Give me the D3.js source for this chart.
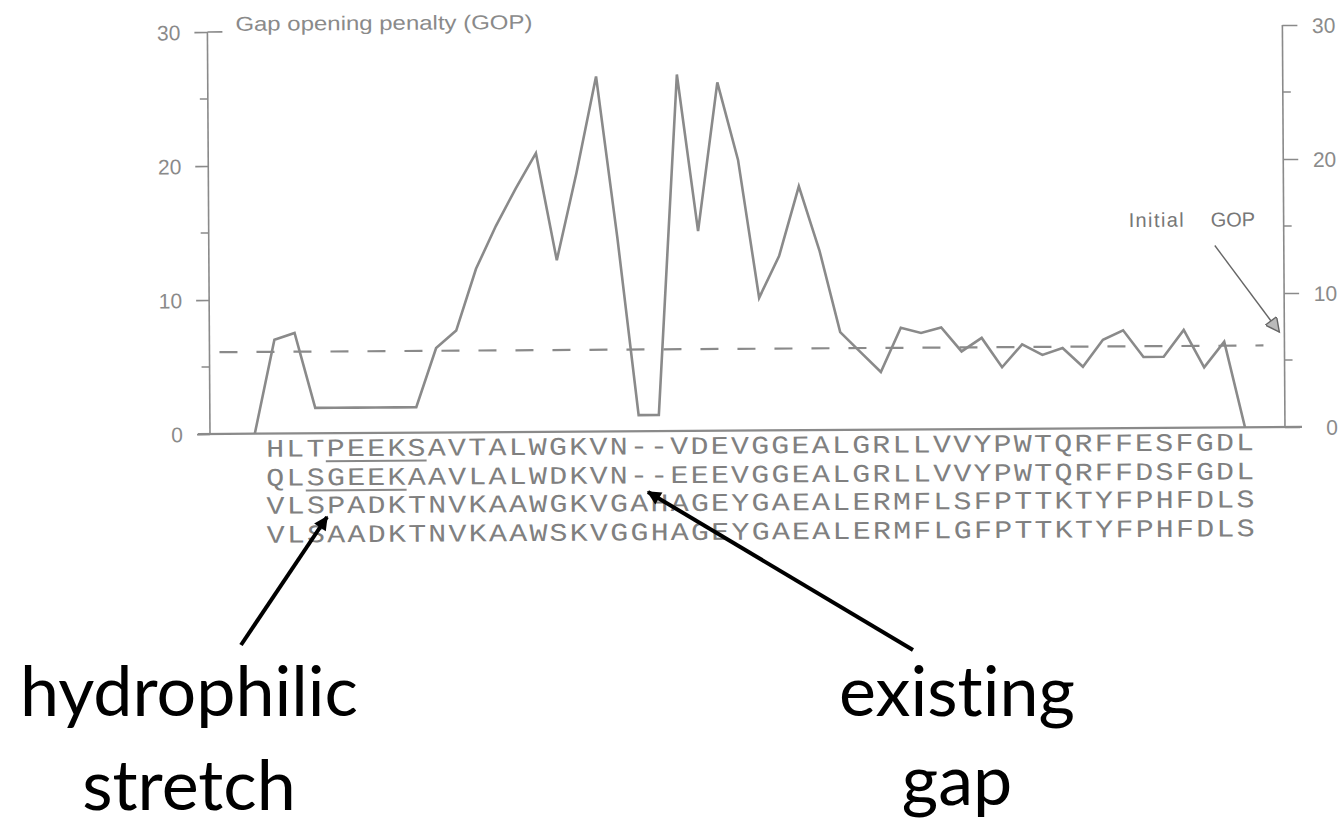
<!DOCTYPE html>
<html>
<head>
<meta charset="utf-8">
<script src="https://cdn.jsdelivr.net/npm/d3@7/dist/d3.min.js"></script>
<style>
  html, body { margin: 0; padding: 0; background: #fff; }
  svg { display: block; }
  text { font-variant-ligatures: none; }
</style>
</head>
<body>
<svg id="chart" width="1342" height="830"></svg>
<script>
// Gap opening penalty per alignment column (index -1 is the leading zero point)
const gopPositions = d3.range(-1, 49);
const gopValues = [0, 7.0, 7.5, 1.9, 1.9, 1.9, 1.9, 1.9, 1.9, 6.3, 7.6, 12.2, 15.4, 18.2, 20.8,
  12.8, 19.3, 26.5, 14.5, 1.2, 1.2, 26.6, 14.9, 26.0, 20.2, 9.9, 13.0, 18.2, 13.4, 7.3, 5.8,
  4.3, 7.6, 7.2, 7.6, 5.8, 6.8, 4.6, 6.3, 5.5, 6.0, 4.6, 6.6, 7.3, 5.3, 5.3, 7.3, 4.5, 6.4, 0];
const initialGop = 6.1;

// Aligned sequences
const sequences = [
  "HLTPEEKSAVTALWGKVN--VDEVGGEALGRLLVVYPWTQRFFESFGDL",
  "QLSGEEKAAVLALWDKVN--EEEVGGEALGRLLVVYPWTQRFFDSFGDL",
  "VLSPADKTNVKAAWGKVGAHAGEYGAEALERMFLSFPTTKTYFPHFDLS",
  "VLSAADKTNVKAAWSKVGGHAGEYGAEALERMFLGFPTTKTYFPHFDLS"
];
// Underlined stretches: [row, first column, last column]
const underlines = [[0, 3, 7], [1, 2, 6]];

const majorTicks = [0, 10, 20, 30];
const minorTicks = [5, 15, 25];

const svg = d3.select("#chart");
const grey = "#8a8a8a";
const sans = "Liberation Sans, Arial, sans-serif";

const x = d3.scaleLinear().domain([0, 48]).range([275, 1245]);
const y = d3.scaleLinear().domain([0, 30]).range([434, 32]);
const xLeft = 210, xRight = 1285;

// The plot is printed with a slight tilt
const plot = svg.append("g").attr("transform", `rotate(-0.37 ${xLeft} ${y(0)})`);

// Baseline
plot.append("line")
  .attr("x1", 198).attr("x2", 1302)
  .attr("y1", y(0)).attr("y2", y(0))
  .attr("stroke", grey).attr("stroke-width", 2.2);

// Left axis
const leftAxis = d3.axisLeft(y).tickValues(majorTicks).tickSize(13).tickPadding(14)
  .tickFormat(d3.format("d"));
const gL = plot.append("g").attr("transform", `translate(${xLeft},0)`).call(leftAxis);
gL.select(".domain").remove();
gL.append("line").attr("y1", y(0)).attr("y2", y(30)).attr("stroke", grey).attr("stroke-width", 1.6);
gL.selectAll(".tick line").attr("stroke", grey).attr("stroke-width", 1.6);
gL.selectAll(".tick text").attr("fill", grey).attr("font-family", sans)
  .attr("font-size", 21).attr("dy", "0.36em");
gL.append("line").attr("x1", 0).attr("x2", 15).attr("y1", y(30)).attr("y2", y(30))
  .attr("stroke", grey).attr("stroke-width", 1.6);
gL.selectAll(".minor").data(minorTicks).join("line").attr("class", "minor")
  .attr("x1", -8).attr("x2", 0).attr("y1", d => y(d)).attr("y2", d => y(d))
  .attr("stroke", grey).attr("stroke-width", 1.4);

// Right axis
const rightAxis = d3.axisRight(y).tickValues(majorTicks).tickSize(15).tickPadding(10)
  .tickFormat(d3.format("d"));
const gR = plot.append("g").attr("transform", `translate(${xRight},0)`).call(rightAxis);
gR.select(".domain").remove();
gR.append("line").attr("y1", y(0)).attr("y2", y(30)).attr("stroke", grey).attr("stroke-width", 1.6);
gR.selectAll(".tick line").attr("stroke", grey).attr("stroke-width", 1.6);
gR.selectAll(".tick text").attr("fill", grey).attr("font-family", sans)
  .attr("font-size", 21).attr("dy", "0.36em")
  .attr("text-anchor", "end").attr("x", 53);
gR.selectAll(".minor").data(minorTicks).join("line").attr("class", "minor")
  .attr("x1", 0).attr("x2", 8).attr("y1", d => y(d)).attr("y2", d => y(d))
  .attr("stroke", grey).attr("stroke-width", 1.4);

// Axis title
plot.append("text")
  .attr("x", 238).attr("y", 31)
  .attr("font-family", sans).attr("font-size", 20)
  .attr("fill", grey).attr("textLength", 297).attr("lengthAdjust", "spacingAndGlyphs")
  .text("Gap opening penalty (GOP)");

// Initial GOP reference line
plot.append("line")
  .attr("x1", 220).attr("x2", 1264)
  .attr("y1", y(initialGop)).attr("y2", y(initialGop))
  .attr("stroke", grey).attr("stroke-width", 2.2)
  .attr("stroke-dasharray", "18,19");

// GOP profile
const line = d3.line().x((d, i) => x(gopPositions[i])).y(d => y(d));
plot.append("path")
  .datum(gopValues)
  .attr("d", line)
  .attr("fill", "none")
  .attr("stroke", grey).attr("stroke-width", 2.6)
  .attr("stroke-linejoin", "miter");

// Initial GOP annotation
const defs = svg.append("defs");
defs.append("marker").attr("id", "openHead")
  .attr("viewBox", "0 0 10 10").attr("refX", 10).attr("refY", 5)
  .attr("markerWidth", 18).attr("markerHeight", 14).attr("markerUnits", "userSpaceOnUse")
  .attr("orient", "auto")
  .append("path").attr("d", "M0,0 L10,5 L0,10 Z")
  .attr("fill", "#bbb").attr("stroke", "#666").attr("stroke-width", 1);

plot.append("text")
  .attr("x", 1130).attr("y", 233)
  .attr("font-family", sans).attr("font-size", 20).attr("fill", "#777")
  .attr("textLength", 55).attr("lengthAdjust", "spacing")
  .text("Initial");
plot.append("text")
  .attr("x", 1212).attr("y", 233)
  .attr("font-family", sans).attr("font-size", 20).attr("fill", "#777")
  .text("GOP");
plot.append("line")
  .attr("x1", 1216).attr("y1", 252).attr("x2", 1280).attr("y2", 339)
  .attr("stroke", "#666").attr("stroke-width", 1.4)
  .attr("marker-end", "url(#openHead)");

// Sequence rows
const rowY = [457, 486, 514, 543];
const seqG = plot.append("g");
sequences.forEach((s, r) => {
  seqG.append("g").selectAll("text")
    .data(s.split(""))
    .join("text")
    .attr("x", (c, i) => x(i))
    .attr("y", rowY[r])
    .attr("text-anchor", "middle")
    .attr("font-family", "Liberation Mono, Courier New, monospace")
    .attr("font-size", 24)
    .attr("transform", (c, i) => `translate(${x(i)},${rowY[r]}) scale(1.25,1.05) translate(${-x(i)},${-rowY[r]})`)
    .attr("fill", "#808080")
    .text(c => c);
});
seqG.selectAll(".ul").data(underlines).join("line").attr("class", "ul")
  .attr("x1", d => x(d[1]) - 10).attr("x2", d => x(d[2]) + 10)
  .attr("y1", d => rowY[d[0]] + 5).attr("y2", d => rowY[d[0]] + 5)
  .attr("stroke", "#888").attr("stroke-width", 2);

// Callouts
defs.append("marker").attr("id", "solidHead")
  .attr("viewBox", "0 0 10 10").attr("refX", 9).attr("refY", 5)
  .attr("markerWidth", 16).attr("markerHeight", 14).attr("markerUnits", "userSpaceOnUse")
  .attr("orient", "auto")
  .append("path").attr("d", "M0,0 L10,5 L0,10 Z").attr("fill", "#000");

const callouts = [
  { lines: ["hydrophilic", "stretch"], cx: 189, from: [241, 645], to: [327, 517], base: [716, 810] },
  { lines: ["existing", "gap"], cx: 957, from: [913, 650], to: [648, 492], base: [716, 805] }
];
callouts.forEach(c => {
  svg.append("line")
    .attr("x1", c.from[0]).attr("y1", c.from[1]).attr("x2", c.to[0]).attr("y2", c.to[1])
    .attr("stroke", "#000").attr("stroke-width", 4)
    .attr("marker-end", "url(#solidHead)");
  c.lines.forEach((t, i) => {
    svg.append("text")
      .attr("x", c.cx).attr("y", c.base[i])
      .attr("text-anchor", "middle")
      .attr("font-family", "Lato, 'Open Sans', sans-serif")
      .attr("font-size", 70)
      .attr("fill", "#000")
      .text(t);
  });
});
</script>
</body>
</html>
